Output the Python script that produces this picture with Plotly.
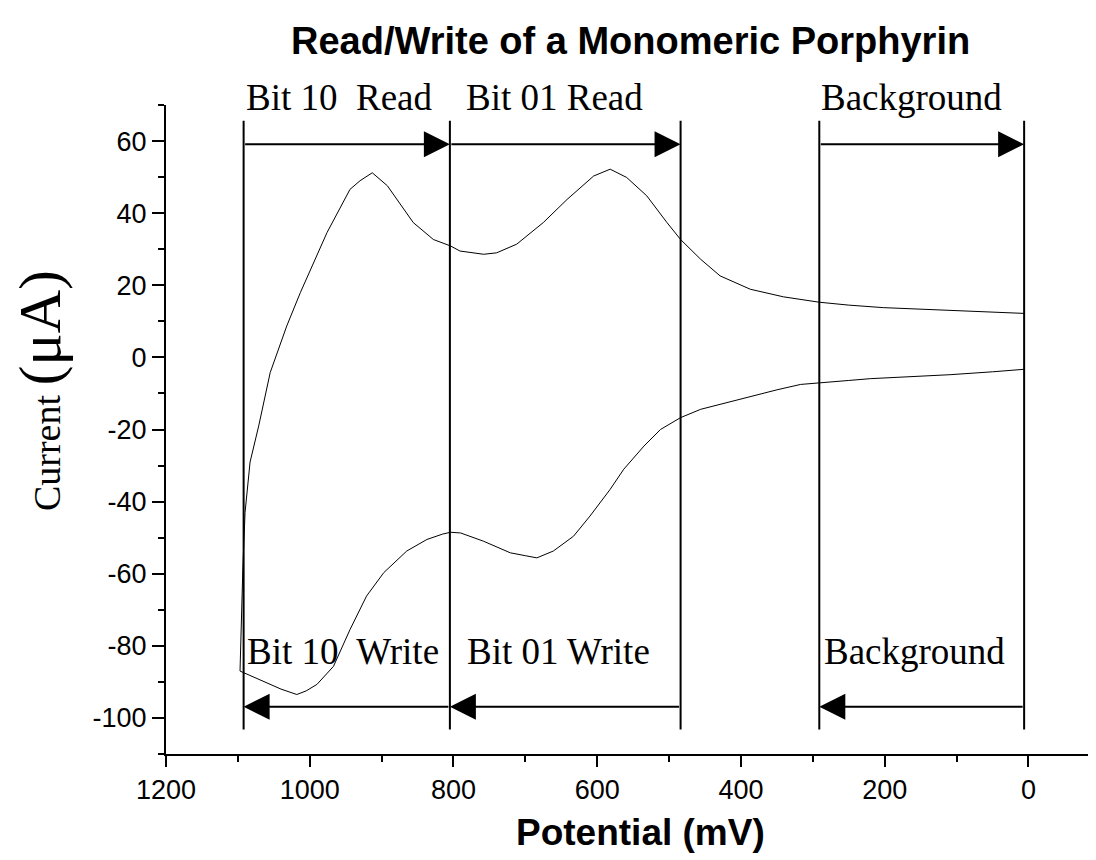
import plotly.graph_objects as go

# ---- data ----
# upper (anodic) branch of the voltammogram, potential in mV, current in uA
upper_mv = [6, 50, 109, 150, 202, 250, 291, 341, 387, 429, 456, 484, 503, 531, 559, 582,
            605, 642, 675, 712, 740, 758, 791, 804, 828, 856, 892, 913, 930, 944, 976,
            1013, 1032, 1055, 1071, 1083, 1090, 1093, 1095, 1097]
upper_ua = [12.2, 12.6, 13.1, 13.4, 13.8, 14.5, 15.3, 16.8, 18.9, 22.6, 27.2, 32.7, 37.4,
            44.8, 49.9, 52.2, 50.3, 43.8, 37.4, 31.4, 29.0, 28.6, 29.5, 30.9, 32.7, 37.4,
            47.6, 51.2, 49.0, 46.6, 34.6, 18.0, 8.7, -4.2, -19.0, -29.0, -43.0, -58.0,
            -72.0, -87.0]

# lower (cathodic) branch
lower_mv = [1097, 1080, 1059, 1040, 1018, 1005, 990, 967, 944, 921, 897, 865, 837, 815,
            804, 790, 758, 721, 700, 684, 661, 633, 610, 582, 563, 535, 512, 484, 456,
            420, 387, 350, 317, 291, 250, 220, 150, 109, 50, 6]
lower_ua = [-87.0, -88.5, -90.3, -92.0, -93.5, -92.5, -90.7, -85.7, -75.5, -66.2, -59.7,
            -53.7, -50.5, -49.0, -48.5, -48.7, -51.0, -54.2, -55.0, -55.6, -53.7, -49.6,
            -44.0, -36.6, -31.0, -24.6, -20.0, -16.7, -14.4, -12.5, -10.8, -9.0, -7.5,
            -7.0, -6.4, -5.9, -5.2, -4.8, -4.0, -3.3]

# window boundaries (mV)
boundaries_mv = [1092, 805, 484, 291, 6]
boundary_span = [-103.2, 65.6]

# read windows (arrows pointing toward lower potential) and write windows
read_windows = [(1092, 805), (805, 484), (291, 6)]
write_windows = [(484, 805), (805, 1092), (6, 291)]
read_level = 59.1
write_level = -96.9

read_labels = ["Bit 10  Read", "Bit 01 Read", "Background"]
read_label_x = [1092, 786, 292]
write_labels = ["Bit 10  Write", "Bit 01 Write", "Background"]
write_label_x = [1090, 784, 287]

# axis ticks
x_tick_vals = [1200, 1000, 800, 600, 400, 200, 0]
x_tick_text = ["1200", "1000", "800", "600", "400", "200", "0"]
y_tick_vals = [-100, -80, -60, -40, -20, 0, 20, 40, 60]
y_tick_text = ["-100", "-80", "-60", "-40", "-20", "0", "20", "40", "60"]

SERIF = "Times New Roman, Liberation Serif, serif"
SANS = "Arial, Liberation Sans, sans-serif"

fig = go.Figure()
fig.add_trace(go.Scatter(x=upper_mv, y=upper_ua, mode="lines",
                         line=dict(color="black", width=1), hoverinfo="skip"))
fig.add_trace(go.Scatter(x=lower_mv, y=lower_ua, mode="lines",
                         line=dict(color="black", width=1), hoverinfo="skip"))

shapes = []
for b in boundaries_mv:
    shapes.append(dict(type="line", xref="x", yref="y", x0=b, x1=b,
                       y0=boundary_span[0], y1=boundary_span[1],
                       line=dict(color="black", width=2)))

annotations = []
for tail, tip in read_windows:
    annotations.append(dict(x=tip, y=read_level, ax=tail, ay=read_level,
                            xref="x", yref="y", axref="x", ayref="y", text="",
                            showarrow=True, arrowhead=2, arrowsize=2.6,
                            arrowwidth=2, arrowcolor="black", standoff=0))
for tail, tip in write_windows:
    annotations.append(dict(x=tip, y=write_level, ax=tail, ay=write_level,
                            xref="x", yref="y", axref="x", ayref="y", text="",
                            showarrow=True, arrowhead=2, arrowsize=2.6,
                            arrowwidth=2, arrowcolor="black", standoff=0))

for t, xv in zip(read_labels, read_label_x):
    annotations.append(dict(x=xv, y=1.0116, xref="x", yref="paper", text=t,
                            showarrow=False, xanchor="left", yanchor="middle",
                            font=dict(family=SERIF, size=37, color="black")))
for t, xv in zip(write_labels, write_label_x):
    annotations.append(dict(x=xv, y=0.158, xref="x", yref="paper", text=t,
                            showarrow=False, xanchor="left", yanchor="middle",
                            font=dict(family=SERIF, size=37, color="black")))

# titles
annotations.append(dict(x=0.499, y=1.099, xref="paper", yref="paper",
                        text="<b>Read/Write of a Monomeric Porphyrin</b>",
                        showarrow=False, xanchor="center", yanchor="middle",
                        font=dict(family=SANS, size=38, color="black")))
annotations.append(dict(x=0.51, y=-0.121, xref="paper", yref="paper",
                        text="<b>Potential (mV)</b>",
                        showarrow=False, xanchor="center", yanchor="middle",
                        font=dict(family=SANS, size=37, color="black")))
annotations.append(dict(x=-0.136, y=0.56, xref="paper", yref="paper",
                        text="Current <span style='font-size:60px'>(\u03bcA)</span>",
                        textangle=-90,
                        showarrow=False, xanchor="center", yanchor="middle",
                        font=dict(family=SERIF, size=38, color="black")))

axis_common = dict(showgrid=False, zeroline=False, showline=True, linecolor="black",
                   linewidth=2, ticks="outside", tickcolor="black", tickwidth=2,
                   tickfont=dict(family=SANS, size=27, color="black"))

# the page adds an 8px body margin, so the figure is 8px smaller than the window
fig.update_layout(
    width=1088, height=852, autosize=False,
    margin=dict(l=158, r=0, t=97, b=106, pad=0),
    paper_bgcolor="white", plot_bgcolor="white",
    showlegend=False,
    shapes=shapes, annotations=annotations,
    xaxis=dict(range=[1200, -94], tickmode="array", tickvals=x_tick_vals,
               ticktext=x_tick_text, ticklen=11,
               minor=dict(ticks="outside", ticklen=6, tickwidth=2, tickcolor="black",
                          tickmode="linear", tick0=0, dtick=100),
               **axis_common),
    yaxis=dict(range=[-110, 70], tickmode="array", tickvals=y_tick_vals,
               ticktext=y_tick_text, ticklen=12,
               minor=dict(ticks="outside", ticklen=6, tickwidth=2, tickcolor="black",
                          tickmode="linear", tick0=0, dtick=10),
               **axis_common),
)

fig.write_html("out.html")
